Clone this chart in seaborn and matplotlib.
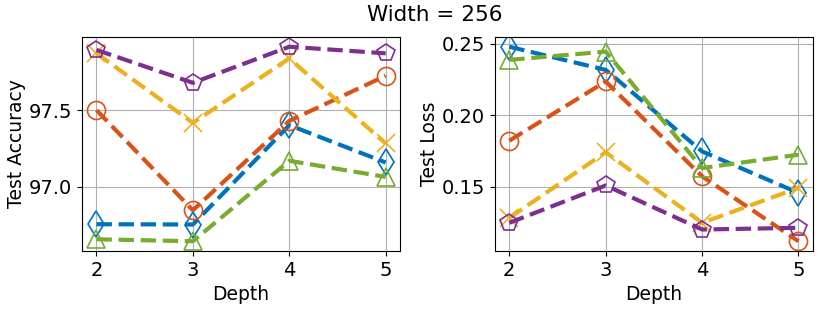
import matplotlib
matplotlib.use("Agg")
import matplotlib.pyplot as plt
import seaborn as sns
import pandas as pd

depth = [2, 3, 4, 5]
series_names = ["A", "B", "C", "D", "E"]
colors = ["#0072BD", "#D95319", "#EDB120", "#7E2F8E", "#77AC30"]
markers = ["d", "o", "x", "p", "^"]

acc_blue = [96.757, 96.755, 97.402, 97.159]
acc_orange = [97.50, 96.848, 97.43, 97.724]
acc_yellow = [97.87, 97.417, 97.837, 97.283]
acc_purple = [97.892, 97.678, 97.913, 97.87]
acc_green = [96.659, 96.646, 97.17, 97.065]

loss_blue = [0.248, 0.2318, 0.1748, 0.1458]
loss_orange = [0.1823, 0.2237, 0.1574, 0.112]
loss_yellow = [0.1284, 0.1742, 0.1249, 0.1493]
loss_purple = [0.1249, 0.151, 0.1202, 0.1214]
loss_green = [0.2388, 0.2446, 0.1632, 0.1725]

acc = [acc_blue, acc_orange, acc_yellow, acc_purple, acc_green]
loss = [loss_blue, loss_orange, loss_yellow, loss_purple, loss_green]

sns.set_theme(style="ticks")
plt.rcParams['font.family'] = ['DejaVu Sans']
plt.rcParams['text.color'] = 'black'
plt.rcParams['axes.labelcolor'] = 'black'
plt.rcParams['xtick.color'] = 'black'
plt.rcParams['ytick.color'] = 'black'

fig = plt.figure(figsize=(8.22, 3.11), dpi=100)
ax1 = fig.add_axes([0.0998, 0.193, 0.387, 0.688])
ax2 = fig.add_axes([0.602, 0.193, 0.387, 0.688])

for ax, data, ylabel in [(ax1, acc, "Test Accuracy"), (ax2, loss, "Test Loss")]:
    for vals, c, m in zip(data, colors, markers):
        df = pd.DataFrame({"Depth": depth, "v": vals})
        sns.lineplot(data=df, x="Depth", y="v", ax=ax, color=c, marker=m,
                     markersize=13, markerfacecolor="none", markeredgecolor=c,
                     markeredgewidth=1.2, linestyle="--", linewidth=3, dashes=False)
        ax.lines[-1].set_linestyle("--")
    ax.set_xticks(depth)
    ax.set_xlabel("Depth", fontsize=13.5)
    ax.set_ylabel(ylabel, fontsize=13.5, labelpad=2)
    ax.tick_params(labelsize=14, direction="out", length=3.5, width=0.8, color="black")
    ax.grid(True, color="#b0b0b0", linewidth=0.8)
    for s in ax.spines.values():
        s.set_color("black")
        s.set_linewidth(0.8)

ax1.set_yticks([97.0, 97.5])
ax1.set_yticklabels(["97.0", "97.5"])
ax2.set_yticks([0.15, 0.20, 0.25])
ax2.set_yticklabels(["0.15", "0.20", "0.25"])

fig.suptitle("Width = 256", fontsize=15.5, x=0.529, y=0.985)
fig.savefig("out.png", dpi=100)
